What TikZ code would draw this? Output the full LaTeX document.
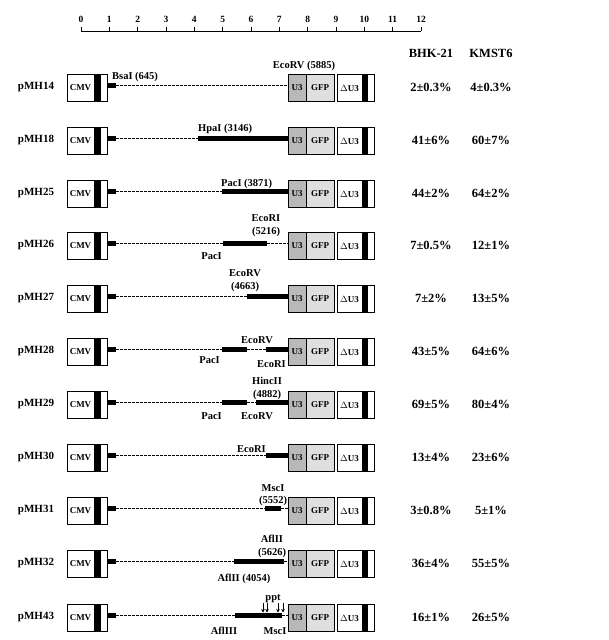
\documentclass[tikz,border=0pt]{standalone}
\usepackage{fontspec}
\setmainfont{Liberation Serif}
\usetikzlibrary{arrows.meta}

\begin{document}
\begin{tikzpicture}[x=1pt,y=-1pt,
  lbl/.style={inner sep=0pt,font=\fontsize{10.5}{11}\bfseries},
  rowlbl/.style={inner sep=0pt,font=\fontsize{11}{12}\bfseries},
  val/.style={inner sep=0pt,font=\fontsize{12.5}{13}\bfseries},
  boxtxt/.style={inner sep=0pt,font=\fontsize{9}{9}\bfseries},
  frame/.style={draw=black,line width=0.8pt},
  insert/.style={line width=4.5pt},
  gap/.style={line width=1pt,dash pattern={on 2.5pt off 1.5pt}},
  ppt/.style={line width=0.9pt,-{Stealth[length=3.5pt,width=3.5pt]}}]
\useasboundingbox (0,0) rectangle (609,640);

%Scale bar
\draw[line width=0.9pt] (81,31) -- (421,31);
\foreach \k in {0,...,12}{
  \draw[line width=0.8pt] ({81+28.333*\k},31) -- ({81+28.333*\k},26.5);
  \node[inner sep=0pt,font=\fontsize{9.5}{10}\bfseries] (tick\k) at ({81+28.333*\k},19) {\k};
}

% Column headers
\node[val] (bhk) at (431,53) {BHK-21};
\node[val] (kmst) at (491,53) {KMST6};

%----- pMH14
\node[rowlbl] (r14) at (36,87) {pMH14};
\draw[frame] (67,74) rectangle (107,101); \fill (94,74) rectangle (101,101);
\node[boxtxt] (cmv14) at (80.5,88) {CMV};
\draw[insert] (107,85.5) -- (116,85.5);
\draw[gap] (116,85.5) -- (288,85.5);
\draw[frame,fill=gray!55] (288,74) rectangle (306,101);
\draw[frame,fill=gray!25] (306,74) rectangle (334,101);
\node[boxtxt] (u314) at (297,88) {U3}; \node[boxtxt] (gfp14) at (320,88) {GFP};
\draw[frame] (337,74) rectangle (374,101); \fill (362,74) rectangle (368,101);
\node[boxtxt] (du14) at (349.5,88) {$\Delta$U3};
\node[lbl,anchor=base west] (bsa14) at (112,79) {BsaI (645)};
\node[lbl,anchor=base] (ecorv14) at (304,68) {EcoRV (5885)};
\node[val] (a14) at (431,87) {2±0.3\%}; \node[val] (b14) at (491,87) {4±0.3\%};

%----- pMH18
\node[rowlbl] (r18) at (36,140) {pMH18};
\draw[frame] (67,127) rectangle (107,154); \fill (94,127) rectangle (101,154);
\node[boxtxt] (cmv18) at (80.5,141) {CMV};
\draw[insert] (107,138.5) -- (116,138.5);
\draw[gap] (116,138.5) -- (198,138.5);
\draw[insert] (198,138.5) -- (288,138.5);
\draw[frame,fill=gray!55] (288,127) rectangle (306,154);
\draw[frame,fill=gray!25] (306,127) rectangle (334,154);
\node[boxtxt] (u318) at (297,141) {U3}; \node[boxtxt] (gfp18) at (320,141) {GFP};
\draw[frame] (337,127) rectangle (374,154); \fill (362,127) rectangle (368,154);
\node[boxtxt] (du18) at (349.5,141) {$\Delta$U3};
\node[lbl,anchor=base west] (hpa18) at (198,131) {HpaI (3146)};
\node[val] (a18) at (431,140) {41±6\%}; \node[val] (b18) at (491,140) {60±7\%};

%----- pMH25
\node[rowlbl] (r25) at (36,193) {pMH25};
\draw[frame] (67,180) rectangle (107,207); \fill (94,180) rectangle (101,207);
\node[boxtxt] (cmv25) at (80.5,194) {CMV};
\draw[insert] (107,191.5) -- (116,191.5);
\draw[gap] (116,191.5) -- (222,191.5);
\draw[insert] (222,191.5) -- (288,191.5);
\draw[frame,fill=gray!55] (288,180) rectangle (306,207);
\draw[frame,fill=gray!25] (306,180) rectangle (334,207);
\node[boxtxt] (u325) at (297,194) {U3}; \node[boxtxt] (gfp25) at (320,194) {GFP};
\draw[frame] (337,180) rectangle (374,207); \fill (362,180) rectangle (368,207);
\node[boxtxt] (du25) at (349.5,194) {$\Delta$U3};
\node[lbl,anchor=base west] (pac25) at (221,186) {PacI (3871)};
\node[val] (a25) at (431,193) {44±2\%}; \node[val] (b25) at (491,193) {64±2\%};

%----- pMH26
\node[rowlbl] (r26) at (36,245) {pMH26};
\draw[frame] (67,232) rectangle (107,259); \fill (94,232) rectangle (101,259);
\node[boxtxt] (cmv26) at (80.5,246) {CMV};
\draw[insert] (107,243.5) -- (116,243.5);
\draw[gap] (116,243.5) -- (223,243.5);
\draw[insert] (223,243.5) -- (267,243.5);
\draw[gap] (267,243.5) -- (288,243.5);
\draw[frame,fill=gray!55] (288,232) rectangle (306,259);
\draw[frame,fill=gray!25] (306,232) rectangle (334,259);
\node[boxtxt] (u326) at (297,246) {U3}; \node[boxtxt] (gfp26) at (320,246) {GFP};
\draw[frame] (337,232) rectangle (374,259); \fill (362,232) rectangle (368,259);
\node[boxtxt] (du26) at (349.5,246) {$\Delta$U3};
\node[lbl,anchor=base] (ecori26) at (266,221) {EcoRI};
\node[lbl,anchor=base] (pos26) at (266,234) {(5216)};
\node[lbl,anchor=base east] (pac26) at (222,259) {PacI};
\node[val] (a26) at (431,245) {7±0.5\%}; \node[val] (b26) at (491,245) {12±1\%};

%----- pMH27
\node[rowlbl] (r27) at (36,298) {pMH27};
\draw[frame] (67,285) rectangle (107,312); \fill (94,285) rectangle (101,312);
\node[boxtxt] (cmv27) at (80.5,299) {CMV};
\draw[insert] (107,296.5) -- (116,296.5);
\draw[gap] (116,296.5) -- (247,296.5);
\draw[insert] (247,296.5) -- (288,296.5);
\draw[frame,fill=gray!55] (288,285) rectangle (306,312);
\draw[frame,fill=gray!25] (306,285) rectangle (334,312);
\node[boxtxt] (u327) at (297,299) {U3}; \node[boxtxt] (gfp27) at (320,299) {GFP};
\draw[frame] (337,285) rectangle (374,312); \fill (362,285) rectangle (368,312);
\node[boxtxt] (du27) at (349.5,299) {$\Delta$U3};
\node[lbl,anchor=base] (ecorv27) at (245,276) {EcoRV};
\node[lbl,anchor=base] (pos27) at (245,289) {(4663)};
\node[val] (a27) at (431,298) {7±2\%}; \node[val] (b27) at (491,298) {13±5\%};

%----- pMH28
\node[rowlbl] (r28) at (36,351) {pMH28};
\draw[frame] (67,338) rectangle (107,365); \fill (94,338) rectangle (101,365);
\node[boxtxt] (cmv28) at (80.5,352) {CMV};
\draw[insert] (107,349.5) -- (116,349.5);
\draw[gap] (116,349.5) -- (222,349.5);
\draw[insert] (222,349.5) -- (247,349.5);
\draw[gap] (247,349.5) -- (266,349.5);
\draw[insert] (266,349.5) -- (288,349.5);
\draw[frame,fill=gray!55] (288,338) rectangle (306,365);
\draw[frame,fill=gray!25] (306,338) rectangle (334,365);
\node[boxtxt] (u328) at (297,352) {U3}; \node[boxtxt] (gfp28) at (320,352) {GFP};
\draw[frame] (337,338) rectangle (374,365); \fill (362,338) rectangle (368,365);
\node[boxtxt] (du28) at (349.5,352) {$\Delta$U3};
\node[lbl,anchor=base] (ecorv28) at (257,343) {EcoRV};
\node[lbl,anchor=base east] (pac28) at (220,363) {PacI};
\node[lbl,anchor=base west] (ecori28) at (257,367) {EcoRI};
\node[val] (a28) at (431,351) {43±5\%}; \node[val] (b28) at (491,351) {64±6\%};

%----- pMH29
\node[rowlbl] (r29) at (36,404) {pMH29};
\draw[frame] (67,391) rectangle (107,418); \fill (94,391) rectangle (101,418);
\node[boxtxt] (cmv29) at (80.5,405) {CMV};
\draw[insert] (107,402.5) -- (116,402.5);
\draw[gap] (116,402.5) -- (222,402.5);
\draw[insert] (222,402.5) -- (247,402.5);
\draw[gap] (247,402.5) -- (256,402.5);
\draw[insert] (256,402.5) -- (288,402.5);
\draw[frame,fill=gray!55] (288,391) rectangle (306,418);
\draw[frame,fill=gray!25] (306,391) rectangle (334,418);
\node[boxtxt] (u329) at (297,405) {U3}; \node[boxtxt] (gfp29) at (320,405) {GFP};
\draw[frame] (337,391) rectangle (374,418); \fill (362,391) rectangle (368,418);
\node[boxtxt] (du29) at (349.5,405) {$\Delta$U3};
\node[lbl,anchor=base] (hinc29) at (267,384) {HincII};
\node[lbl,anchor=base] (pos29) at (267,397) {(4882)};
\node[lbl,anchor=base east] (pac29) at (222,419) {PacI};
\node[lbl,anchor=base] (ecorv29) at (257,419) {EcoRV};
\node[val] (a29) at (431,404) {69±5\%}; \node[val] (b29) at (491,404) {80±4\%};

%----- pMH30
\node[rowlbl] (r30) at (36,457) {pMH30};
\draw[frame] (67,444) rectangle (107,471); \fill (94,444) rectangle (101,471);
\node[boxtxt] (cmv30) at (80.5,458) {CMV};
\draw[insert] (107,455.5) -- (116,455.5);
\draw[gap] (116,455.5) -- (266,455.5);
\draw[insert] (266,455.5) -- (288,455.5);
\draw[frame,fill=gray!55] (288,444) rectangle (306,471);
\draw[frame,fill=gray!25] (306,444) rectangle (334,471);
\node[boxtxt] (u330) at (297,458) {U3}; \node[boxtxt] (gfp30) at (320,458) {GFP};
\draw[frame] (337,444) rectangle (374,471); \fill (362,444) rectangle (368,471);
\node[boxtxt] (du30) at (349.5,458) {$\Delta$U3};
\node[lbl,anchor=base east] (ecori30) at (266,452) {EcoRI};
\node[val] (a30) at (431,457) {13±4\%}; \node[val] (b30) at (491,457) {23±6\%};

%----- pMH31
\node[rowlbl] (r31) at (36,510) {pMH31};
\draw[frame] (67,497) rectangle (107,524); \fill (94,497) rectangle (101,524);
\node[boxtxt] (cmv31) at (80.5,511) {CMV};
\draw[insert] (107,508.5) -- (116,508.5);
\draw[gap] (116,508.5) -- (265,508.5);
\draw[insert] (265,508.5) -- (281,508.5);
\draw[gap] (281,508.5) -- (288,508.5);
\draw[frame,fill=gray!55] (288,497) rectangle (306,524);
\draw[frame,fill=gray!25] (306,497) rectangle (334,524);
\node[boxtxt] (u331) at (297,511) {U3}; \node[boxtxt] (gfp31) at (320,511) {GFP};
\draw[frame] (337,497) rectangle (374,524); \fill (362,497) rectangle (368,524);
\node[boxtxt] (du31) at (349.5,511) {$\Delta$U3};
\node[lbl,anchor=base] (msc31) at (273,491) {MscI};
\node[lbl,anchor=base] (pos31) at (273,503) {(5552)};
\node[val] (a31) at (431,510) {3±0.8\%}; \node[val] (b31) at (491,510) {5±1\%};

%----- pMH32
\node[rowlbl] (r32) at (36,563) {pMH32};
\draw[frame] (67,550) rectangle (107,577); \fill (94,550) rectangle (101,577);
\node[boxtxt] (cmv32) at (80.5,564) {CMV};
\draw[insert] (107,561.5) -- (116,561.5);
\draw[gap] (116,561.5) -- (234,561.5);
\draw[insert] (234,561.5) -- (284,561.5);
\draw[gap] (284,561.5) -- (288,561.5);
\draw[frame,fill=gray!55] (288,550) rectangle (306,577);
\draw[frame,fill=gray!25] (306,550) rectangle (334,577);
\node[boxtxt] (u332) at (297,564) {U3}; \node[boxtxt] (gfp32) at (320,564) {GFP};
\draw[frame] (337,550) rectangle (374,577); \fill (362,550) rectangle (368,577);
\node[boxtxt] (du32) at (349.5,564) {$\Delta$U3};
\node[lbl,anchor=base] (afl32) at (272,542) {AflII};
\node[lbl,anchor=base] (pos32) at (272,555) {(5626)};
\node[lbl,anchor=base] (afllo32) at (244,581) {AflII (4054)};
\node[val] (a32) at (431,563) {36±4\%}; \node[val] (b32) at (491,563) {55±5\%};

%----- pMH43
\node[rowlbl] (r43) at (36,617) {pMH43};
\draw[frame] (67,604) rectangle (107,631); \fill (94,604) rectangle (101,631);
\node[boxtxt] (cmv43) at (80.5,618) {CMV};
\draw[insert] (107,615.5) -- (116,615.5);
\draw[gap] (116,615.5) -- (235,615.5);
\draw[insert] (235,615.5) -- (282,615.5);
\draw[gap] (282,615.5) -- (288,615.5);
\draw[frame,fill=gray!55] (288,604) rectangle (306,631);
\draw[frame,fill=gray!25] (306,604) rectangle (334,631);
\node[boxtxt] (u343) at (297,618) {U3}; \node[boxtxt] (gfp43) at (320,618) {GFP};
\draw[frame] (337,604) rectangle (374,631); \fill (362,604) rectangle (368,631);
\node[boxtxt] (du43) at (349.5,618) {$\Delta$U3};
\node[lbl,anchor=base] (ppt43) at (273,600) {ppt};
\foreach \px in {263,267,278,283}{
  \coordinate (pa\px) at (\px,603);
  \coordinate (pb\px) at (\px,612.5);
  \draw[ppt] (pa\px) -- (pb\px);
}
\node[lbl,anchor=base] (afl43) at (224,634) {AflIII};
\node[lbl,anchor=base] (msc43) at (275,634) {MscI};
\node[val] (a43) at (431,617) {16±1\%}; \node[val] (b43) at (491,617) {26±5\%};
\end{tikzpicture}
\end{document}
